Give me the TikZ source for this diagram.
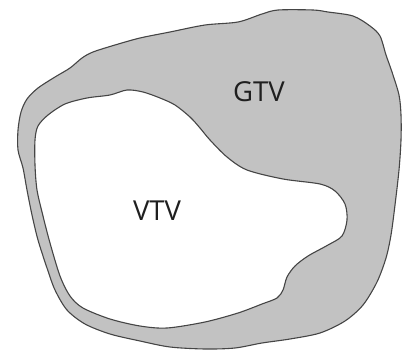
\documentclass[tikz,border=0pt]{standalone}
\usepackage{fontspec}
\setsansfont{Open Sans}
\definecolor{gtvgrau}{HTML}{C2C2C2}
\definecolor{randgrau}{HTML}{454545}
\usetikzlibrary{positioning}

\begin{document}
\begin{tikzpicture}[x=1pt, y=-1pt]
      \useasboundingbox (0,0) rectangle (411,352);
      \tikzset{kontur/.style={randgrau, line width=1.1pt, line join=round},
               label/.style={font=\sffamily\fontsize{27.5}{32}\selectfont, text=black!88}}
      % GTV (outer contour)
      \def\gtvpath{plot[smooth cycle, tension=0.5] coordinates {
        (278,10) (313,10) (328,12) (353,16) (370,26) (380,36) (386,55)
        (392,72) (399,95) (401,115) (401,140) (399,170) (395,205) (391,235)
        (386,258) (377,282) (363,305) (345,321) (320,333) (290,339)
        (262,343) (235,348) (205,349) (170,347) (140,341) (110,334)
        (85,324) (67,310) (55,290) (47,268) (38,240) (32,215) (27,190)
        (23,168) (18,150) (18,130) (21,112) (27,99) (38,88) (55,77)
        (70,68) (82,58) (93,52) (115,45) (140,38) (170,32) (205,25)
        (238,22) (262,14)}}
      % VTV (hole)
      \def\vtvpath{plot[smooth cycle, tension=0.5] coordinates {
        (35,140) (38,126) (48,115) (65,104) (87,98) (110,95) (127,90)
        (143,92) (160,98) (175,105) (190,117) (200,128) (210,140)
        (227,157) (247,170) (283,179) (320,184) (335,191) (345,204)
        (347,220) (342,236) (328,245) (308,256) (295,266) (287,277)
        (283,290) (277,298) (262,304) (238,313) (205,322) (167,328)
        (140,326) (110,319) (83,308) (70,296) (60,276) (50,243)
        (43,216) (37,190) (35,165)}}
      \fill[gtvgrau, even odd rule] \gtvpath \vtvpath;
      \draw[kontur] \gtvpath;
      \draw[kontur] \vtvpath;
      % Labels
      \node[label] (gtv) at (259,92) {GTV};
      \node[label] (vtv) at (157,211) {VTV};
    \end{tikzpicture}
\end{document}
